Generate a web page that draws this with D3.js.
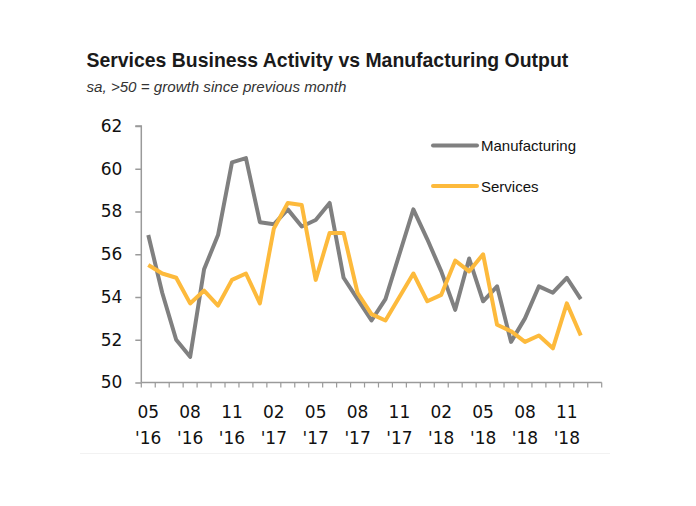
<!DOCTYPE html>
<html>
<head>
<meta charset="utf-8">
<script src="https://cdn.jsdelivr.net/npm/d3@7/dist/d3.min.js"></script>
<style>
  html, body { margin: 0; padding: 0; background: #ffffff; }
  svg { display: block; }
</style>
</head>
<body>
<script>
// ---- data ----
const months = ["2016-05","2016-06","2016-07","2016-08","2016-09","2016-10","2016-11","2016-12",
  "2017-01","2017-02","2017-03","2017-04","2017-05","2017-06","2017-07","2017-08","2017-09","2017-10","2017-11","2017-12",
  "2018-01","2018-02","2018-03","2018-04","2018-05","2018-06","2018-07","2018-08","2018-09","2018-10","2018-11","2018-12",
  "2019-01"];
const manufacturing = [56.9, 54.2, 52.0, 51.2, 55.3, 56.9, 60.3, 60.5, 57.5, 57.4, 58.1, 57.3,
  57.6, 58.4, 54.9, 53.9, 52.9, 53.9, 56.0, 58.1, 56.7, 55.2, 53.4, 55.8,
  53.8, 54.5, 51.9, 53.0, 54.5, 54.2, 54.9, 53.9];
const services = [55.5, 55.1, 54.9, 53.7, 54.3, 53.6, 54.8, 55.1, 53.7, 57.2, 58.4, 58.3,
  54.8, 57.0, 57.0, 54.2, 53.2, 52.9, 54.0, 55.1, 53.8, 54.1, 55.7, 55.2,
  56.0, 52.7, 52.4, 51.9, 52.2, 51.6, 53.7, 52.2];
const tickCats = ["2016-05","2016-08","2016-11","2017-02","2017-05","2017-08","2017-11","2018-02","2018-05","2018-08","2018-11"];
const tickMonthLabels = ["05","08","11","02","05","08","11","02","05","08","11"];
const tickYearLabels = ["'16","'16","'16","'17","'17","'17","'17","'18","'18","'18","'18"];
const yTicks = [50, 52, 54, 56, 58, 60, 62];
const seriesNames = ["Manufacturing", "Services"];
const title = "Services Business Activity vs Manufacturing Output";
const subtitle = "sa, >50 = growth since previous month";

// ---- styles ----
const W = 696, H = 506;
const colors = { Manufacturing: "#808080", Services: "#FDBA3C" };
const axisColor = "#9a9a9a";
const tickFont = "'DejaVu Sans', sans-serif";

const svg = d3.select("body").append("svg").attr("width", W).attr("height", H);
svg.append("rect").attr("width", W).attr("height", H).attr("fill", "#ffffff");

// faint frame bottom line
svg.append("line").attr("x1", 80).attr("x2", 610).attr("y1", 453.5).attr("y2", 453.5)
  .attr("stroke", "#f2f2f2").attr("stroke-width", 1);

const x = d3.scaleBand().domain(months).range([141.3, 601.7]).paddingInner(0).paddingOuter(0);
const y = d3.scaleLinear().domain([50, 62]).range([382.5, 126]);
const cx = m => x(m) + x.bandwidth() / 2;

// title
const t = svg.append("text").attr("x", 86.5).attr("y", 66.5)
  .attr("font-family", "'Liberation Sans', Arial, sans-serif").attr("font-weight", "bold")
  .attr("font-size", 19).attr("fill", "#1a1a1a").text(title);
let tl = t.node().getComputedTextLength();
t.attr("font-size", 19 * 482 / tl);

const st = svg.append("text").attr("x", 86.5).attr("y", 91.5)
  .attr("font-family", "'Liberation Sans', Arial, sans-serif").attr("font-style", "italic")
  .attr("font-size", 14).attr("fill", "#333333").text(subtitle);
let sl = st.node().getComputedTextLength();
st.attr("font-size", 14 * 260 / sl);

// y axis
const yAxis = d3.axisLeft(y).tickValues(yTicks).tickSize(6).tickPadding(13).tickFormat(d3.format("d"));
const gy = svg.append("g").attr("transform", "translate(141.3,0)").call(yAxis);
gy.select(".domain").attr("stroke", axisColor).attr("stroke-width", 1.5).attr("d", `M-6,${y(62)}H0V${y(50)}`);
gy.selectAll(".tick line").attr("stroke", axisColor).attr("stroke-width", 1.5);
gy.selectAll(".tick text").attr("font-family", tickFont).attr("font-size", 17).attr("fill", "#111");

// x axis: ticks at category boundaries
const boundaries = months.map(m => x(m)).concat([x.range()[1]]);
const gx = svg.append("g");
gx.append("line").attr("x1", 141.3).attr("x2", 601.7).attr("y1", y(50)).attr("y2", y(50))
  .attr("stroke", axisColor).attr("stroke-width", 1.5);
gx.selectAll("line.tk").data(boundaries).join("line").attr("class", "tk")
  .attr("x1", d => d).attr("x2", d => d).attr("y1", y(50)).attr("y2", y(50) + 5)
  .attr("stroke", axisColor).attr("stroke-width", 1.2);
gx.selectAll("text.m").data(tickCats).join("text").attr("class", "m")
  .attr("x", d => cx(d)).attr("y", 418).attr("text-anchor", "middle")
  .attr("font-family", tickFont).attr("font-size", 17).attr("fill", "#111")
  .text((d, i) => tickMonthLabels[i]);
gx.selectAll("text.yr").data(tickCats).join("text").attr("class", "yr")
  .attr("x", d => cx(d)).attr("y", 444).attr("text-anchor", "middle")
  .attr("font-family", tickFont).attr("font-size", 17).attr("fill", "#111")
  .text((d, i) => tickYearLabels[i]);

// lines
const line = d3.line().x((d, i) => cx(months[i])).y(d => y(d));
svg.append("path").datum(manufacturing).attr("d", line).attr("fill", "none")
  .attr("stroke", colors.Manufacturing).attr("stroke-width", 4).attr("stroke-linejoin", "round");
svg.append("path").datum(services).attr("d", line).attr("fill", "none")
  .attr("stroke", colors.Services).attr("stroke-width", 4).attr("stroke-linejoin", "round");

// legend
const legY = [145.5, 186];
seriesNames.forEach((n, i) => {
  svg.append("line").attr("x1", 433).attr("x2", 477).attr("y1", legY[i]).attr("y2", legY[i])
    .attr("stroke", colors[n]).attr("stroke-width", 4).attr("stroke-linecap", "round");
  svg.append("text").attr("x", 481).attr("y", legY[i] + 5.5)
    .attr("font-family", "'Liberation Sans', Arial, sans-serif").attr("font-size", 15)
    .attr("fill", "#111").text(n);
});
</script>
</body>
</html>
